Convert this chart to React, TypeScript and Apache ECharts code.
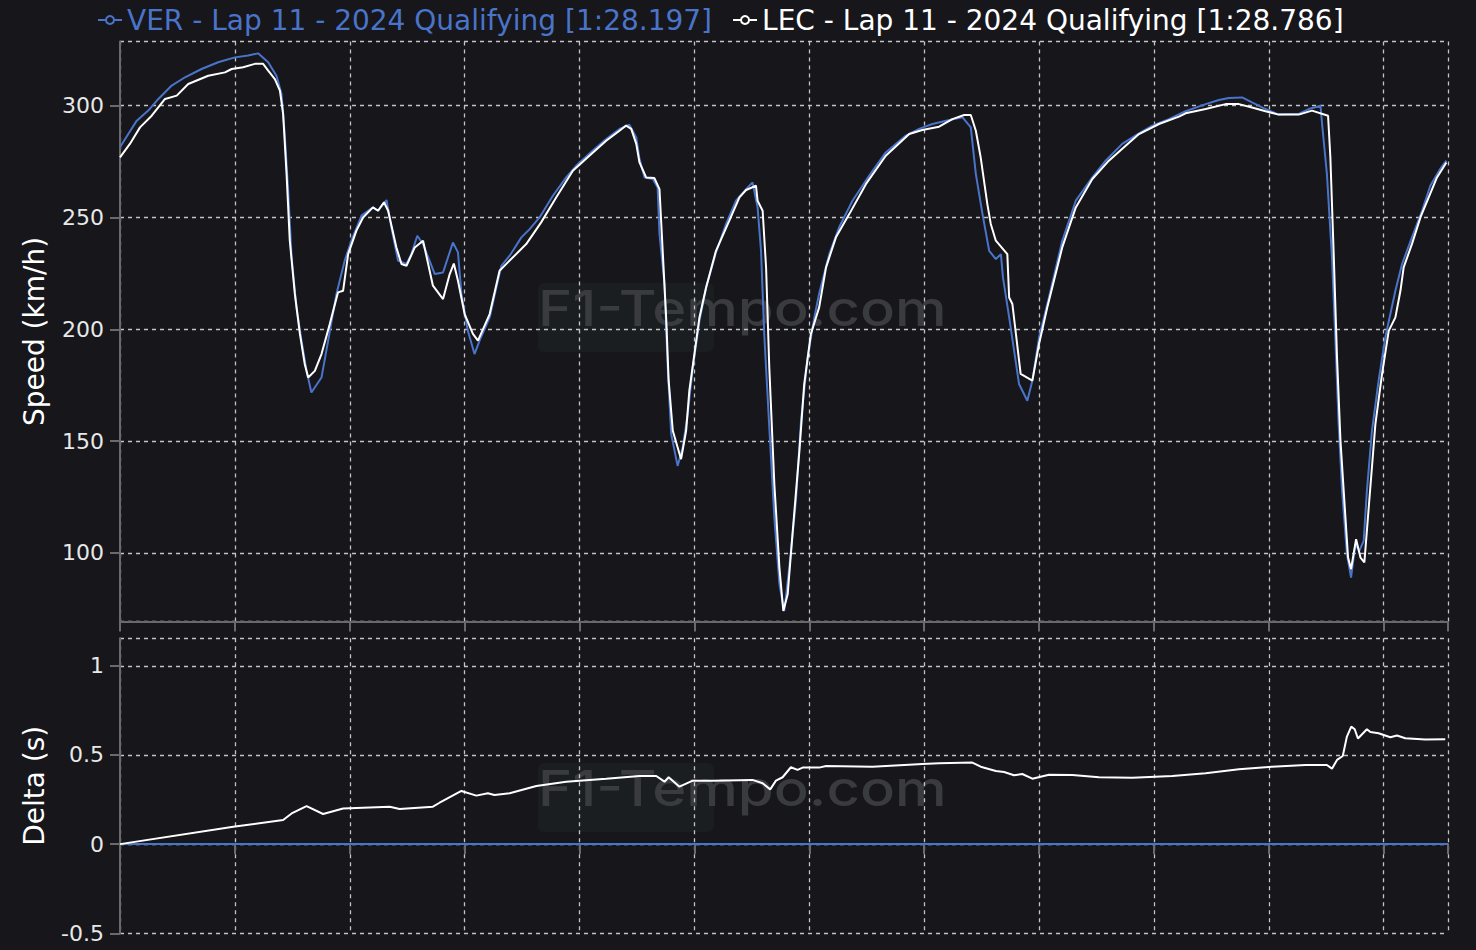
import React, { useEffect, useRef } from "react";
import * as echarts from "echarts";

const verName = "VER - Lap 11 - 2024 Qualifying [1:28.197]";
const lecName = "LEC - Lap 11 - 2024 Qualifying [1:28.786]";

const verDistance = [0,36,73,123,167,225,283,355,427,500,558,601,645,681,703,717,732,747,768,790,812,833,877,906,942,978,1007,1051,1101,1123,1160,1181,1210,1247,1268,1294,1319,1370,1406,1449,1471,1486,1514,1543,1565,1609,1638,1660,1696,1747,1783,1826,1884,1942,1986,2058,2116,2174,2217,2247,2261,2283,2319,2340,2348,2370,2384,2399,2427,2449,2471,2493,2522,2551,2594,2638,2681,2725,2753,2775,2790,2804,2826,2848,2870,2891,2913,2942,2964,2993,3022,3043,3087,3130,3188,3261,3333,3420,3478,3536,3609,3667,3703,3725,3754,3783,3812,3834,3843,3870,3913,3949,3971,4000,4043,4101,4160,4232,4290,4362,4435,4493,4565,4638,4725,4783,4826,4884,4927,4986,5043,5130,5174,5225,5232,5253,5275,5290,5304,5319,5340,5358,5377,5394,5413,5427,5449,5478,5507,5551,5580,5623,5667,5703,5746,5773];
const verSpeed = [281.4,287.3,293.3,297.8,303,309,312.7,316.4,319.4,321.6,322.4,323.4,319.4,313.4,305.2,287.3,262,232.1,209.8,194.9,181.4,171.7,178.4,194.9,215.8,230.7,239.6,250.8,254.5,253,257.8,245.6,230.7,229.2,233.6,241.8,238.1,224.7,225.4,238.8,234.4,215.8,199.3,188.9,194.9,205.3,218.7,228.4,232.9,241.1,244.8,250,259.7,267.9,273.2,279.9,285.1,289.6,291.5,285.8,276.2,267.9,267.2,263.4,242.6,220.2,182.9,153.1,138.9,147.1,162.1,182.9,203.8,218.7,234.4,247.1,257.5,262.7,265.7,254.5,235.1,197.9,156.1,115.8,86,74,93.4,123.3,159.1,187.4,205.3,216,233.6,245.6,257.5,268.7,279.1,286.6,289.6,291.8,293.6,294.8,290.3,269.4,251.5,235.1,231.4,233.6,223.2,205.3,175.5,168,177,196.3,214.2,239.6,257.5,267.9,275.4,282.9,287.6,291.1,294,297.5,300.7,302.5,303.4,303.7,301.5,298.5,296,296.3,298.5,300,291.8,269.4,232.1,194.9,157.6,127.7,99.4,88.9,103.9,100.9,105.4,127.7,154.6,177,196.3,217.2,229.2,241.1,253,264.2,271.7,275.4];

const lecDistance = [0,43,87,138,196,247,297,384,457,486,536,587,623,645,674,696,710,725,739,761,783,804,819,848,877,913,949,971,993,1029,1058,1101,1123,1149,1167,1203,1225,1247,1283,1319,1362,1406,1435,1453,1471,1500,1536,1558,1609,1652,1688,1768,1833,1899,1971,2043,2116,2174,2203,2225,2247,2261,2290,2326,2348,2362,2377,2388,2406,2442,2464,2478,2500,2522,2551,2594,2652,2696,2725,2768,2775,2797,2812,2826,2848,2870,2887,2906,2927,2957,2978,3007,3043,3073,3116,3174,3247,3333,3435,3492,3565,3623,3674,3703,3725,3746,3775,3790,3812,3862,3870,3884,3920,3971,4000,4036,4101,4160,4232,4304,4377,4435,4522,4609,4638,4725,4812,4870,4927,4986,5043,5130,5188,5258,5268,5283,5297,5312,5326,5345,5358,5380,5399,5416,5435,5464,5493,5522,5551,5573,5587,5623,5660,5696,5732,5773];
const lecSpeed = [276.9,282.9,290.3,295.5,303,304.5,309.7,313.4,314.9,316.4,317.2,318.7,318.7,315.7,311.9,306.7,296.3,269.4,239.6,215.8,197.9,184.5,178.4,181.4,188.9,202.3,216.5,217.2,233.6,244.1,250,254.5,253,256.8,253,236.6,229.2,228.4,236.6,239.6,219.5,213.5,224.7,229.4,221.7,206.8,197.9,194.9,206.8,226.2,229.9,238.1,247.8,259,270.9,277.6,284.3,288.8,291.1,289.6,282.9,274.6,267.9,267.6,262.7,235.1,205.3,177,154.6,141.9,154.6,172.5,188.9,205.3,218.7,235.1,248.6,259,262.3,264.2,257.5,253,227.7,182.9,130.7,93.4,74,81.5,108.4,145.6,175.5,197.9,209.8,227.7,241.1,251.5,265,277.6,287.3,289.1,290.6,294,295.8,295.8,288.8,276.9,256,247.1,239.6,233.6,214.2,211.3,180,177,193.4,209.8,236.6,254.5,267.2,275.4,282.1,287.3,291.8,295.1,296.6,298.5,300.7,300.7,299.2,297.5,296,296,297.8,295.5,276.9,232.1,187.4,150.1,127.7,97.9,92.7,106.1,97.9,95.7,120.3,157.6,180,199.3,205.3,217.2,227.7,238.1,250,259,267.9,274.6];

const deltaDistance = [0,493,710,747,812,884,971,1174,1217,1362,1391,1486,1551,1601,1630,1696,1812,1942,2116,2261,2334,2370,2388,2435,2493,2580,2753,2797,2830,2855,2884,2920,2949,2971,3043,3073,3275,3493,3565,3710,3746,3812,3848,3891,3927,3971,4043,4145,4261,4406,4580,4725,4870,5014,5160,5253,5275,5297,5322,5340,5359,5374,5388,5427,5442,5478,5529,5558,5594,5681,5768];
const lecDelta = [0,0.097,0.135,0.172,0.213,0.169,0.2,0.21,0.197,0.21,0.232,0.298,0.272,0.285,0.275,0.285,0.326,0.35,0.367,0.382,0.382,0.35,0.375,0.322,0.356,0.356,0.36,0.341,0.307,0.356,0.375,0.431,0.416,0.429,0.429,0.438,0.434,0.449,0.453,0.457,0.434,0.41,0.404,0.386,0.393,0.367,0.389,0.388,0.375,0.372,0.382,0.397,0.42,0.434,0.444,0.444,0.423,0.472,0.494,0.603,0.659,0.644,0.592,0.644,0.629,0.622,0.599,0.609,0.594,0.586,0.588];
const verDeltaDistance = [0, 5780];
const verDelta = [0, 0];

const distanceRange = [0, 5780];
const speedRange = [69.3, 328.7];
const deltaRange = [-0.5, 1.154];
const axisNames = ["Speed (km/h)", "Delta (s)"];
const watermarkText = "F1-Tempo.com";

const FONT = "'DejaVu Sans', 'Noto Sans', sans-serif";
const MARK_FONT = "Inter, 'Noto Sans', sans-serif";
const BG = "#16161b";
const VER_COLOR = "#4a74c9";
const LEC_COLOR = "#ffffff";
const GRID_COLOR = "#c4c4c4";
const AXIS_COLOR = "#6a6a6a";

const zip = (xs: number[], ys: number[]) => xs.map((x, i) => [x, ys[i]]);

const splitLine = { show: true, lineStyle: { color: GRID_COLOR, type: [4, 4] as any, width: 1.3 } };
const axisLine = { show: true, lineStyle: { color: AXIS_COLOR, width: 2 } };
const axisTick = { show: true, length: 10, lineStyle: { color: AXIS_COLOR, width: 2 } };

function xAxis(gridIndex: number) {
  return {
    type: "value",
    gridIndex,
    min: distanceRange[0],
    max: distanceRange[1],
    interval: 500,
    axisLabel: { show: false },
    axisLine,
    axisTick,
    splitLine,
  };
}

function yLabel(showMin: boolean) {
  return {
    color: "#e8e8e8",
    fontSize: 22,
    fontFamily: FONT,
    margin: 16,
    showMinLabel: showMin,
    showMaxLabel: false,
  };
}

const yName = {
  nameLocation: "middle",
  nameGap: 72,
  nameTextStyle: { color: "#ffffff", fontSize: 28, fontFamily: FONT },
};

function watermark(top: number) {
  return [
    {
      type: "rect",
      x: 538,
      y: top,
      shape: { width: 176, height: 69, r: 6 },
      style: { fill: "#1a1e21" },
      z: -10,
      silent: true,
    },
    {
      type: "text",
      x: 538,
      y: top + 1,
      scaleX: 1.185,
      style: {
        text: watermarkText,
        fill: "#3a3b3f",
        font: `500 49px ${MARK_FONT}`,
        textVerticalAlign: "top",
        verticalAlign: "top",
      },
      z: -9,
      silent: true,
    },
  ];
}

function legendItem(name: string, color: string) {
  return {
    name,
    textStyle: { color },
    itemStyle: { color: BG, borderColor: color, borderWidth: 2 },
    lineStyle: { color, width: 2 },
  };
}

export default function App() {
  const ref = useRef<HTMLDivElement>(null);
  useEffect(() => {
    if (!ref.current) return;
    const chart = echarts.init(ref.current, null, { renderer: "svg" });
    const option: any = {
      animation: false,
      backgroundColor: BG,
      textStyle: { fontFamily: FONT },
      legend: {
        left: 92,
        top: 1,
        itemWidth: 24,
        itemHeight: 10,
        itemGap: 20,
        textStyle: { fontSize: 28, fontFamily: FONT },
        data: [legendItem(verName, VER_COLOR), legendItem(lecName, LEC_COLOR)],
      },
      grid: [
        { left: 120, right: 28, top: 41.5, height: 580 },
        { left: 120, right: 28, top: 638.3, height: 295 },
      ],
      xAxis: [xAxis(0), xAxis(1)],
      yAxis: [
        {
          type: "value",
          gridIndex: 0,
          min: speedRange[0],
          max: speedRange[1],
          splitNumber: 5,
          name: axisNames[0],
          ...yName,
          axisLine,
          axisTick,
          axisLabel: yLabel(false),
          splitLine,
        },
        {
          type: "value",
          gridIndex: 1,
          min: deltaRange[0],
          max: deltaRange[1],
          interval: 0.5,
          name: axisNames[1],
          ...yName,
          axisLine,
          axisTick,
          axisLabel: yLabel(true),
          splitLine,
        },
      ],
      graphic: [...watermark(283), ...watermark(763)],
      series: [
        {
          type: "line",
          name: verName,
          xAxisIndex: 0,
          yAxisIndex: 0,
          data: zip(verDistance, verSpeed),
          showSymbol: false,
          symbol: "circle",
          color: VER_COLOR,
          lineStyle: { width: 2, color: VER_COLOR },
          z: 3,
        },
        {
          type: "line",
          name: lecName,
          xAxisIndex: 0,
          yAxisIndex: 0,
          data: zip(lecDistance, lecSpeed),
          showSymbol: false,
          symbol: "circle",
          color: LEC_COLOR,
          lineStyle: { width: 2, color: LEC_COLOR },
          z: 4,
        },
        {
          type: "line",
          name: verName,
          xAxisIndex: 1,
          yAxisIndex: 1,
          data: zip(verDeltaDistance, verDelta),
          showSymbol: false,
          symbol: "circle",
          color: VER_COLOR,
          lineStyle: { width: 2, color: VER_COLOR },
          z: 3,
        },
        {
          type: "line",
          name: lecName,
          xAxisIndex: 1,
          yAxisIndex: 1,
          data: zip(deltaDistance, lecDelta),
          showSymbol: false,
          symbol: "circle",
          color: LEC_COLOR,
          lineStyle: { width: 2, color: LEC_COLOR },
          z: 4,
        },
      ],
    };
    chart.setOption(option);
    return () => chart.dispose();
  }, []);
  return (
    <div
      ref={ref}
      style={{ position: "fixed", left: 0, top: 0, width: 1476, height: 950 }}
    />
  );
}
